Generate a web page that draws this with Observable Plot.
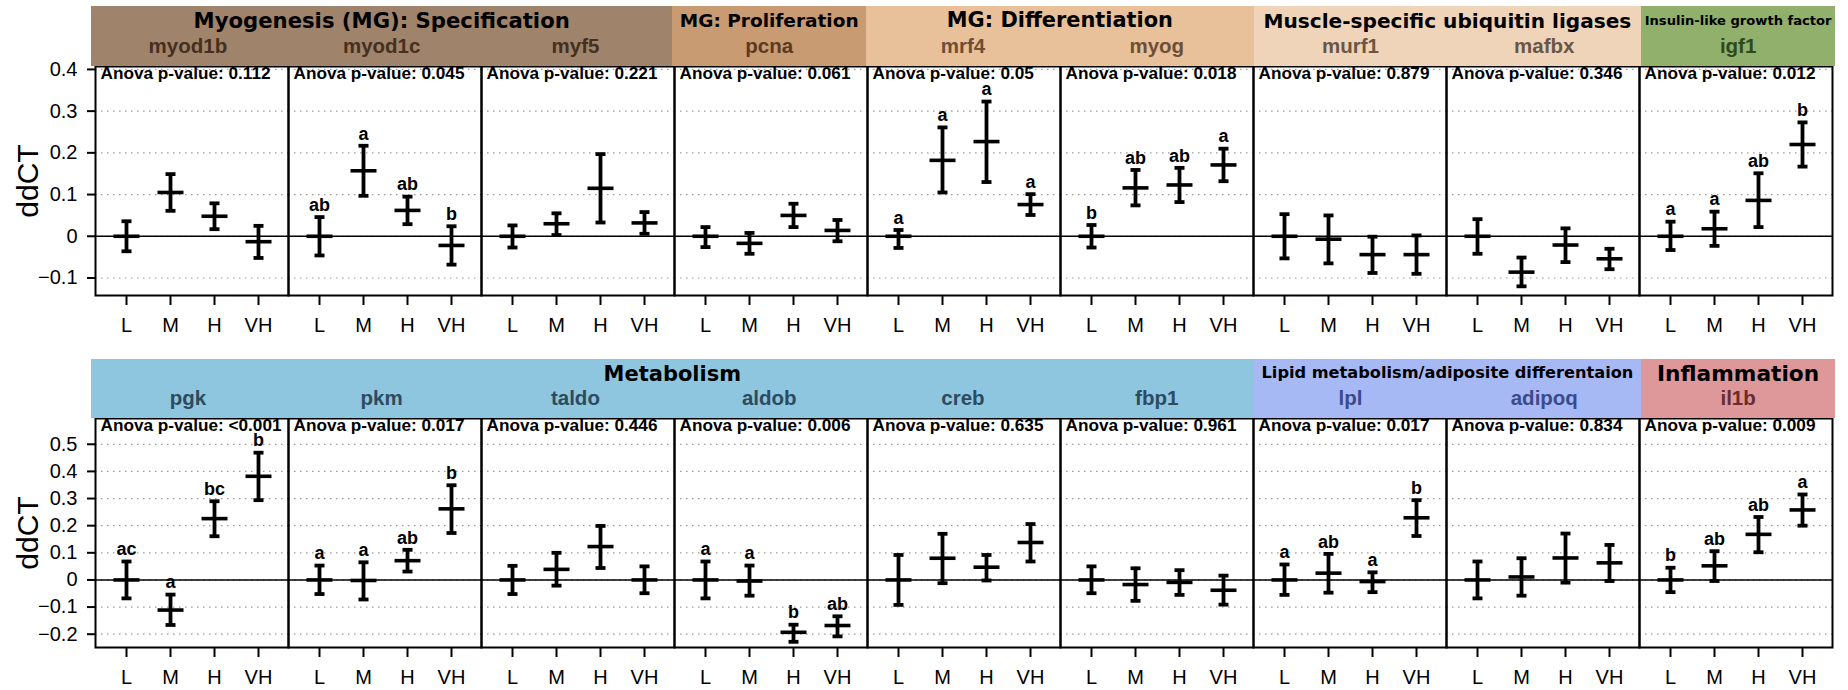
<!DOCTYPE html>
<html><head><meta charset="utf-8">
<script src="https://cdn.jsdelivr.net/npm/d3@7"></script>
<script src="https://cdn.jsdelivr.net/npm/@observablehq/plot@0.6"></script>
<style>
body{margin:0;background:#fff;}
#wrap{position:relative;width:1848px;height:690px;overflow:hidden;font-family:"Liberation Sans",Arial,sans-serif;}
.band{position:absolute;}
.title{position:absolute;left:0;right:0;text-align:center;white-space:nowrap;font-family:"DejaVu Sans",Verdana,sans-serif;font-weight:bold;color:#000;line-height:1;}
.gene{position:absolute;text-align:center;white-space:nowrap;font-family:"Liberation Sans",Arial,sans-serif;font-weight:bold;line-height:1;}
</style></head><body><div id="wrap"></div><script>
const levels = ["L","M","H","VH"];

// ---- Row 1 ----
const genes1 = ["myod1b","myod1c","myf5","pcna","mrf4","myog","murf1","mafbx","igf1"];
const pvals1 = ["0.112","0.045","0.221","0.061","0.05","0.018","0.879","0.346","0.012"];
const mean1 = [
 [0, 0.105, 0.048, -0.013],
 [0, 0.157, 0.062, -0.022],
 [0, 0.030, 0.115, 0.032],
 [0, -0.017, 0.050, 0.014],
 [0, 0.182, 0.227, 0.076],
 [0, 0.116, 0.123, 0.171],
 [0, -0.007, -0.044, -0.044],
 [0, -0.086, -0.021, -0.054],
 [0, 0.018, 0.086, 0.220]];
const upper1 = [
 [0.036, 0.149, 0.079, 0.025],
 [0.046, 0.217, 0.095, 0.024],
 [0.026, 0.055, 0.197, 0.058],
 [0.022, 0.008, 0.078, 0.039],
 [0.015, 0.261, 0.323, 0.101],
 [0.027, 0.159, 0.164, 0.210],
 [0.053, 0.050, -0.001, 0.002],
 [0.041, -0.051, 0.019, -0.030],
 [0.035, 0.059, 0.151, 0.273]];
const lower1 = [
 [-0.036, 0.061, 0.017, -0.052],
 [-0.046, 0.097, 0.029, -0.068],
 [-0.027, 0.003, 0.033, 0.006],
 [-0.026, -0.042, 0.022, -0.012],
 [-0.028, 0.105, 0.130, 0.051],
 [-0.027, 0.074, 0.082, 0.132],
 [-0.053, -0.065, -0.088, -0.090],
 [-0.042, -0.120, -0.062, -0.079],
 [-0.033, -0.023, 0.022, 0.167]];
const letters1 = [
 ["","","",""],
 ["ab","a","ab","b"],
 ["","","",""],
 ["","","",""],
 ["a","a","a","a"],
 ["b","ab","ab","a"],
 ["","","",""],
 ["","","",""],
 ["a","a","ab","b"]];
const ticks1 = [-0.1, 0, 0.1, 0.2, 0.3, 0.4];
const groups1 = ["Myogenesis (MG): Specification","MG: Proliferation","MG: Differentiation","Muscle-specific ubiquitin ligases","Insulin-like growth factor"];
const spans1 = [3,1,2,2,1];

// ---- Row 2 ----
const genes2 = ["pgk","pkm","taldo","aldob","creb","fbp1","lpl","adipoq","il1b"];
const pvals2 = ["<0.001","0.017","0.446","0.006","0.635","0.961","0.017","0.834","0.009"];
const mean2 = [
 [0, -0.111, 0.226, 0.382],
 [0, -0.002, 0.071, 0.262],
 [0, 0.039, 0.123, 0],
 [0, -0.004, -0.193, -0.168],
 [0, 0.080, 0.047, 0.138],
 [0, -0.017, -0.009, -0.038],
 [0, 0.025, -0.006, 0.229],
 [0, 0.011, 0.081, 0.063],
 [0, 0.052, 0.168, 0.258]];
const upper2 = [
 [0.068, -0.054, 0.290, 0.469],
 [0.053, 0.065, 0.111, 0.349],
 [0.052, 0.100, 0.199, 0.050],
 [0.068, 0.053, -0.165, -0.134],
 [0.092, 0.170, 0.092, 0.206],
 [0.050, 0.043, 0.036, 0.016],
 [0.057, 0.096, 0.028, 0.294],
 [0.068, 0.080, 0.171, 0.129],
 [0.045, 0.106, 0.232, 0.315]];
const lower2 = [
 [-0.068, -0.166, 0.161, 0.294],
 [-0.052, -0.072, 0.031, 0.173],
 [-0.052, -0.021, 0.044, -0.049],
 [-0.068, -0.058, -0.228, -0.208],
 [-0.092, -0.012, -0.002, 0.068],
 [-0.049, -0.077, -0.055, -0.091],
 [-0.055, -0.047, -0.045, 0.162],
 [-0.068, -0.058, -0.010, -0.004],
 [-0.045, -0.004, 0.102, 0.200]];
const letters2 = [
 ["ac","a","bc","b"],
 ["a","a","ab","b"],
 ["","","",""],
 ["a","a","b","ab"],
 ["","","",""],
 ["","","",""],
 ["a","ab","a","b"],
 ["","","",""],
 ["b","ab","ab","a"]];
const ticks2 = [-0.2, -0.1, 0, 0.1, 0.2, 0.3, 0.4, 0.5];
const groups2 = ["Metabolism","Lipid metabolism/adiposite differentaion","Inflammation"];
const spans2 = [6,2,1];

// ---- header styles ----
const fills1 = ["#a0836b","#c99b73","#e8c09a","#efd4ba","#90b06c"];
const inks1 = ["#45301f","#5a3a22","#6d4f36","#6a5646","#2e4a1c"];
const titleSizes1 = [21.2, 18.5, 20.9, 20.1, 13.1];
const titleBase1 = [28, 28, 28, 28, 25];
const fills2 = ["#8fc6df","#a7b9f5","#de989a"];
const inks2 = ["#2d4b60","#3b4a8a","#6b2c2e"];
const titleSizes2 = [21, 16.2, 21.7];
const titleBase2 = [382, 379, 381];

const panelW = (1848 - 91 - 13) / 9;
const wrap = document.getElementById("wrap");

function tableFor(genes, mean, upper, lower, letters) {
  const rows = [];
  genes.forEach((g, i) => levels.forEach((l, j) => rows.push({
    gene: g, level: l, mean: mean[i][j], hi: upper[i][j], lo: lower[i][j], letter: letters[i][j]
  })));
  return rows;
}

const hline = {draw(ctx, size) { const r = Math.sqrt(size / Math.PI); ctx.moveTo(-r, 0); ctx.lineTo(r, 0); }};

function panelRow(genes, pvals, rows, domain, ticks, marginTop, marginBottom) {
  return Plot.plot({
    width: 1848, height: 345,
    marginLeft: 91, marginRight: 13, marginTop, marginBottom,
    style: {fontFamily: '"Liberation Sans", Arial, sans-serif', fontSize: "20px", color: "black", background: "transparent", overflow: "visible"},
    fx: {domain: genes, padding: 0, axis: null, label: null},
    x: {type: "point", domain: levels, padding: 0.654, label: null},
    y: {domain, label: null},
    marks: [
      Plot.gridY(ticks, {stroke: "#9a9a9a", strokeOpacity: 1, strokeDasharray: "1.5,4.5", strokeWidth: 1.2}),
      Plot.ruleY([0], {stroke: "black", strokeWidth: 1.6}),
      Plot.frame({stroke: "black", strokeWidth: 2}),
      Plot.axisY(ticks, {tickSize: 8, tickPadding: 10, fontSize: 20, strokeWidth: 2, label: null,
        tickFormat: d => d === 0 ? "0" : d3.format(".1f")(d)}),
      Plot.axisX({tickSize: 10, tickPadding: 12, fontSize: 20, strokeWidth: 2, label: null}),
      Plot.ruleX(rows, {fx: "gene", x: "level", y1: "lo", y2: "hi", stroke: "black", strokeWidth: 3.8}),
      Plot.dot(rows, {fx: "gene", x: "level", y: "hi", symbol: hline, r: 5, stroke: "black", strokeWidth: 3.8, fill: "none"}),
      Plot.dot(rows, {fx: "gene", x: "level", y: "lo", symbol: hline, r: 5, stroke: "black", strokeWidth: 3.8, fill: "none"}),
      Plot.dot(rows, {fx: "gene", x: "level", y: "mean", symbol: hline, r: 13, stroke: "black", strokeWidth: 3.6, fill: "none"}),
      Plot.text(rows.filter(d => d.letter), {fx: "gene", x: "level", y: "hi", text: "letter", dy: -12,
        fontWeight: "bold", fontSize: 18}),
      Plot.text(genes, {fx: d => d, text: (d, i) => "Anova p-value: " + pvals[i], frameAnchor: "top-left",
        dx: 5, dy: 0, fontWeight: "bold", fontSize: 17.2}),
      Plot.text([genes[0]], {fx: d => d, text: () => "ddCT", frameAnchor: "left", rotate: -90, dx: -67,
        textAnchor: "middle", lineAnchor: "middle", fontSize: 30})
    ]
  });
}

function addHeader(groups, spans, fills, inks, sizes, titleBase, genes, geneBase, top, height) {
  let start = 0;
  const geneSize = 20.5;
  groups.forEach((g, k) => {
    const band = document.createElement("div");
    band.className = "band";
    band.style.left = (91 + start * panelW) + "px";
    band.style.width = (spans[k] * panelW) + "px";
    band.style.top = top + "px";
    band.style.height = height + "px";
    band.style.background = fills[k];
    const t = document.createElement("div");
    t.className = "title";
    t.style.fontSize = sizes[k] + "px";
    t.style.top = (titleBase[k] - top - 0.846 * sizes[k]) + "px";
    t.textContent = g;
    band.appendChild(t);
    for (let j = 0; j < spans[k]; j++) {
      const gd = document.createElement("div");
      gd.className = "gene";
      gd.style.left = (j * panelW) + "px";
      gd.style.width = panelW + "px";
      gd.style.fontSize = geneSize + "px";
      gd.style.top = (geneBase - top - 0.8465 * geneSize) + "px";
      gd.style.color = inks[k];
      gd.textContent = genes[start + j];
      band.appendChild(gd);
    }
    wrap.appendChild(band);
    start += spans[k];
  });
}

const svg1 = panelRow(genes1, pvals1, tableFor(genes1, mean1, upper1, lower1, letters1), [-0.142, 0.407], ticks1, 66, 50);
const svg2 = panelRow(genes2, pvals2, tableFor(genes2, mean2, upper2, lower2, letters2), [-0.249, 0.595], ticks2, 73, 43);
[svg1, svg2].forEach((s, i) => {
  s.style.position = "absolute"; s.style.left = "0px"; s.style.top = (i * 345) + "px";
  wrap.appendChild(s);
});
addHeader(groups1, spans1, fills1, inks1, titleSizes1, titleBase1, genes1, 53, 6, 60);
addHeader(groups2, spans2, fills2, inks2, titleSizes2, titleBase2, genes2, 405.5, 359, 59);
</script></body></html>
